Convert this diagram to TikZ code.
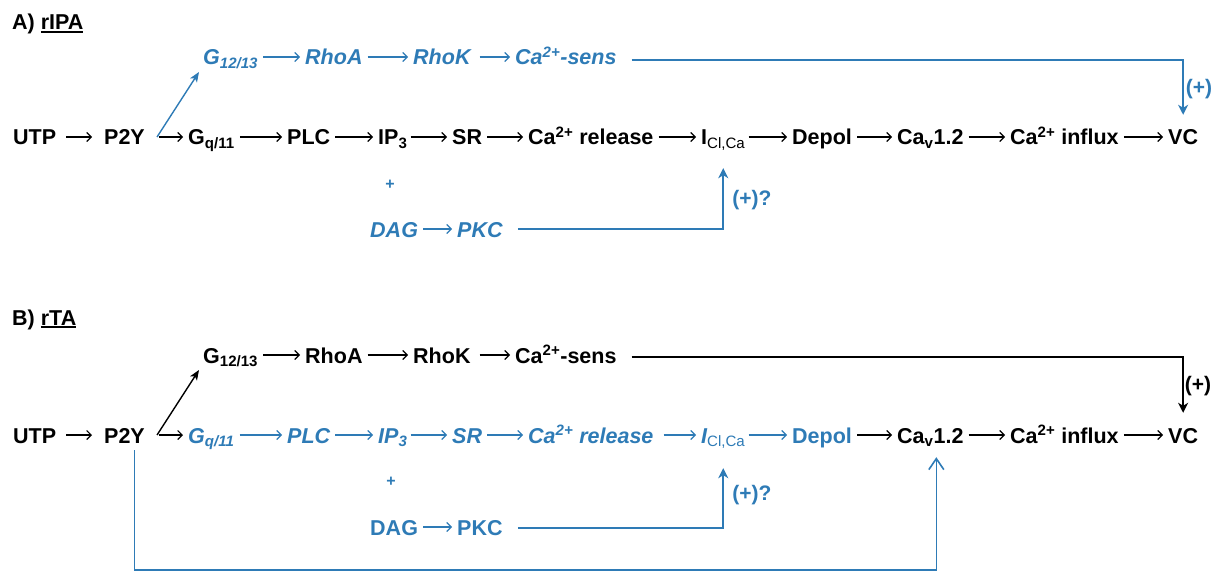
\documentclass[tikz,border=0pt]{standalone}
\usepackage{fontspec}
\setmainfont{Liberation Sans}
\usetikzlibrary{arrows.meta,calc}
\definecolor{myblue}{RGB}{46,123,182}
\newcommand{\myul}[1]{\leavevmode\setbox0\hbox{#1}\rlap{\rule[-2.8pt]{\wd0}{1.4pt}}\box0}
\begin{document}
\begin{tikzpicture}[x=1pt,y=-1pt,
  font=\fontsize{21.5}{24}\selectfont\bfseries,
  t/.style={inner sep=0pt, anchor=west, text height=16pt, text depth=0pt},
  b/.style={text=myblue},
  i/.style={font=\fontsize{21.5}{24}\selectfont\bfseries\itshape},
  lbl/.style={inner sep=0pt, font=\fontsize{21}{24}\selectfont\bfseries, text=myblue},
  pls/.style={inner sep=0pt, font=\fontsize{16}{18}\selectfont\bfseries, text=myblue},
  ar/.style={-{Straight Barb[length=4.5pt,width=9pt]}, line width=1.1pt, shorten <=5pt, shorten >=5pt},
  fb/.style={line width=1.6pt},
  fbtip/.style={-{Stealth[length=10pt,width=10pt,inset=3pt]}},
  diag/.style={line width=1.4pt, -{Stealth[length=10pt,width=8pt,inset=2.5pt]}},
  opentip/.style={-{Straight Barb[length=11pt,width=15pt]}},
]
\useasboundingbox (0,0) rectangle (1222,572);

% ---------------- A ----------------
\node[anchor=base west, inner sep=0pt] (titleA) at (12,30) {A) \myul{rIPA}};

% top row A
\node[t,b,i] (g12A) at (203,57) {G\textsubscript{12/13}};
\node[t,b,i] (rhoaA) at (305,57) {RhoA};
\node[t,b,i] (rhokA) at (413,57) {RhoK};
\node[t,b,i] (sensA) at (515,57) {Ca\textsuperscript{2+}-sens};
\draw[ar,myblue] (g12A) -- (rhoaA);
\draw[ar,myblue] (rhoaA) -- (rhokA);
\draw[ar,myblue,shorten <=9pt] (rhokA) -- (sensA);

% main row A
\node[t] (utpA) at (13,137) {UTP};
\node[t] (p2yA) at (104,137) {P2Y};
\node[t] (gqA) at (188,137) {G\textsubscript{q/11}};
\node[t] (plcA) at (287,137) {PLC};
\node[t] (ip3A) at (378,137) {IP\textsubscript{3}};
\node[t] (srA) at (452,137) {SR};
\node[t] (carA) at (528,137) {Ca\textsuperscript{2+} release};
\node[t] (iclA) at (701,137) {I\textsubscript{\mdseries Cl,Ca}};
\node[t] (depA) at (792,137) {Depol};
\node[t] (cavA) at (897,137) {Ca\textsubscript{v}1.2};
\node[t] (cainA) at (1010,137) {Ca\textsuperscript{2+} influx};
\node[t] (vcA) at (1168,137) {VC};
\draw[ar,shorten <=10pt,shorten >=12pt] (utpA) -- (p2yA);
\draw[ar,shorten <=14pt] (p2yA) -- (gqA);
\draw[ar] (gqA) -- (plcA);
\draw[ar] (plcA) -- (ip3A);
\draw[ar,shorten <=3pt] (ip3A) -- (srA);
\draw[ar] (srA) -- (carA);
\draw[ar] (carA) -- (iclA);
\draw[ar,shorten <=3pt] (iclA) -- (depA);
\draw[ar] (depA) -- (cavA);
\draw[ar] (cavA) -- (cainA);
\draw[ar] (cainA) -- (vcA);

% DAG row A
\node[pls] (plusA) at (390,185) {+};
\node[t,b,i] (dagA) at (370,229) {DAG};
\node[t,b,i] (pkcA) at (457,229) {PKC};
\draw[ar,myblue] (dagA) -- (pkcA);

% connectors A
\draw[diag,myblue] ([xshift=12pt]p2yA.east) -- ([xshift=-4pt,yshift=-15pt]g12A.west);
\draw[fb,fbtip,myblue] ([xshift=15pt,yshift=-3pt]sensA.east) -| ([yshift=14pt]vcA.north);
\node[lbl] (plusfA) at (1199,89) {(+)};
\draw[fb,fbtip,myblue] ([xshift=15pt]pkcA.east) -| ([yshift=-23pt]iclA.south);
\node[lbl] (qA) at (752,200) {(+)?};

% ---------------- B ----------------
\node[anchor=base west, inner sep=0pt] (titleB) at (12,325) {B) \myul{rTA}};

% top row B
\node[t] (g12B) at (203,355) {G\textsubscript{12/13}};
\node[t] (rhoaB) at (305,355) {RhoA};
\node[t] (rhokB) at (413,355) {RhoK};
\node[t] (sensB) at (515,355) {Ca\textsuperscript{2+}-sens};
\draw[ar] (g12B) -- (rhoaB);
\draw[ar] (rhoaB) -- (rhokB);
\draw[ar,shorten <=9pt] (rhokB) -- (sensB);

% main row B
\node[t] (utpB) at (13,435) {UTP};
\node[t] (p2yB) at (104,435) {P2Y};
\node[t,b,i] (gqB) at (188,435) {G\textsubscript{q/11}};
\node[t,b,i] (plcB) at (287,435) {PLC};
\node[t,b,i] (ip3B) at (378,435) {IP\textsubscript{3}};
\node[t,b,i] (srB) at (452,435) {SR};
\node[t,b,i] (carB) at (528,435) {Ca\textsuperscript{2+} release};
\node[t,b,i] (iclB) at (701,435) {I\textsubscript{\mdseries\upshape Cl,Ca}};
\node[t,b] (depB) at (792,435) {Depol};
\node[t] (cavB) at (897,435) {Ca\textsubscript{v}1.2};
\node[t] (cainB) at (1010,435) {Ca\textsuperscript{2+} influx};
\node[t] (vcB) at (1168,435) {VC};
\draw[ar,shorten <=10pt,shorten >=12pt] (utpB) -- (p2yB);
\draw[ar,shorten <=14pt] (p2yB) -- (gqB);
\draw[ar,myblue] (gqB) -- (plcB);
\draw[ar,myblue] (plcB) -- (ip3B);
\draw[ar,myblue,shorten <=3pt] (ip3B) -- (srB);
\draw[ar,myblue] (srB) -- (carB);
\draw[ar,myblue,shorten <=10pt] (carB) -- (iclB);
\draw[ar,myblue,shorten <=3pt] (iclB) -- (depB);
\draw[ar] (depB) -- (cavB);
\draw[ar] (cavB) -- (cainB);
\draw[ar] (cainB) -- (vcB);

% DAG row B
\node[pls] (plusB) at (391,482) {+};
\node[t,b] (dagB) at (370,527) {DAG};
\node[t,b] (pkcB) at (457,527) {PKC};
\draw[ar,myblue] (dagB) -- (pkcB);

% connectors B
\draw[diag] ([xshift=12pt]p2yB.east) -- ([xshift=-4pt,yshift=-15pt]g12B.west);
\draw[fb,fbtip] ([xshift=15pt,yshift=-2pt]sensB.east) -| ([yshift=14pt]vcB.north);
\node[lbl,text=black] (plusfB) at (1198,386) {(+)};
\draw[fb,fbtip,myblue] ([xshift=15pt,yshift=-1pt]pkcB.east) -| ([yshift=-25pt]iclB.south);
\node[lbl] (qB) at (752,495) {(+)?};

\coordinate (bstart) at ([xshift=10pt,yshift=-7pt]p2yB.south);
\coordinate (cavtip) at ([xshift=6pt,yshift=-14pt]cavB.south);
\coordinate (floor) at (0,570);
\draw[fb,opentip,myblue] (bstart) |- (floor -| cavtip) -- (cavtip);
\end{tikzpicture}
\end{document}
